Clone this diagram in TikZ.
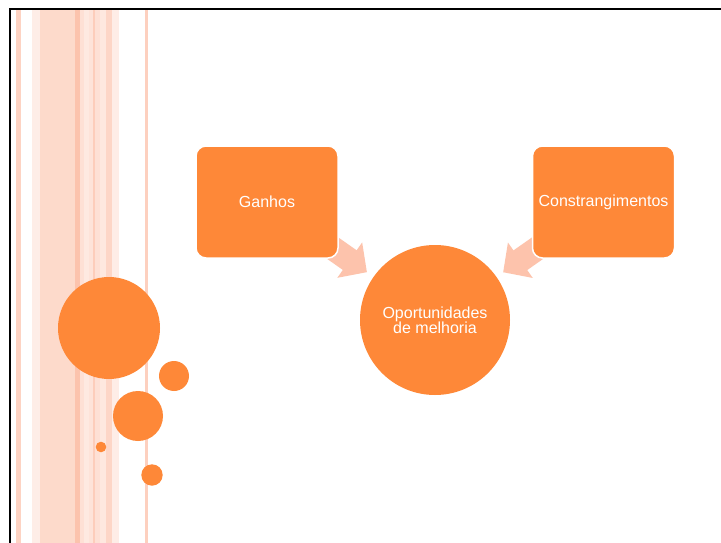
\documentclass[tikz,border=0pt]{standalone}
\usepackage{fontspec}
\setmainfont{Liberation Sans}
\usepackage{tikz}
\usetikzlibrary{arrows.meta,backgrounds,shapes}

\definecolor{accent}{HTML}{FE8838}
\definecolor{pale}{HTML}{FDC3AC}

\begin{document}
\begin{tikzpicture}[x=1pt,y=-1pt,
    box/.style={rectangle,rounded corners=10pt,fill=accent,draw=white,line width=1.5pt,
                minimum width=142pt,minimum height=112pt,text=white,
                font=\fontsize{16}{16}\selectfont},
    goalnode/.style={circle,fill=accent,minimum size=150pt,inner sep=0pt,text=white,
                align=center,font=\fontsize{16}{15}\selectfont},
    blockarrow/.style={draw=pale,line width=24pt,shorten >=8pt,
                -{Triangle[length=21pt,width=42pt,fill=pale]}}]
  \useasboundingbox (0,0) rectangle (721,543);

  % stripes on the left
  \foreach \xa/\xb/\col in {16/21/FDD3C3, 32/40/FEEDE7, 40/75/FDDACB, 75/80/FCC3AD,
                            80/84/FEE0D5, 84/89/FEE9E1, 89/93/FEE3D9, 93/95/FDCDBB,
                            95/100/FEE0D5, 100/106/FEE8DF, 106/112/FDD6C7, 112/119/FEEDE7,
                            145/148/FDD0BF}
  {
    \definecolor{stripe}{HTML}{\col}
    \fill[stripe] (\xa,10) rectangle (\xb,543);
  }

  \draw[line width=2.5pt] (10,543) -- (10,9) -- (721,9);

  % dots
  \fill[accent] (109,328) circle (51);
  \fill[accent] (174,376) circle (15);
  \fill[accent] (138,416) circle (25);
  \fill[accent] (101,447) circle (5.3);
  \fill[accent] (152,475) circle (10.7);

  \node[box]      (gains)  at (267,202)   {Ganhos};
  \node[box]      (limits) at (603.5,202) {Constrangimentos};
  \node[goalnode] (goal)   at (435,320)   {Oportunidades\\de melhoria};

  \begin{pgfonlayer}{background}
    \fill[white] (0,0) rectangle (721,543);
    \draw[blockarrow] (gains.center)  -- (goal);
    \draw[blockarrow] (limits.center) -- (goal);
  \end{pgfonlayer}
\end{tikzpicture}
\end{document}
